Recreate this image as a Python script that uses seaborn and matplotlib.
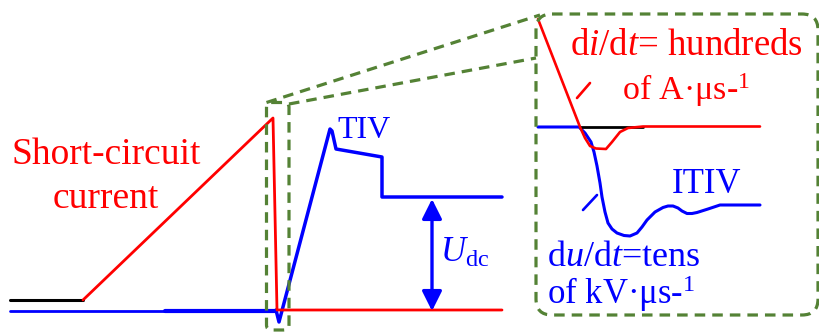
import numpy as np
import pandas as pd
import matplotlib
matplotlib.use("Agg")
import matplotlib.pyplot as plt
from matplotlib.patches import FancyBboxPatch, FancyArrowPatch
import seaborn as sns

# ---- waveform sketch data (horizontal position, vertical position, top-down) ----
idle_x = [10, 83]
idle_y = [300, 300]

current_x = [83, 273, 277, 502]
current_y = [300, 118, 310, 310]

gate_x = [10, 165]
gate_y = [311, 311]

voltage_pre_x = [165, 276]
voltage_pre_y = [310.5, 310.5]

voltage_x = [276, 279, 330, 332, 336, 382, 382, 502]
voltage_y = [310, 322, 129, 131, 149, 157, 197, 197]

# zoomed view of the turn-off transient
zoom_i_x = [538, 580, 585, 590, 596, 606, 612, 620, 628, 643, 760]
zoom_i_y = [19, 127, 138, 146, 148.5, 149, 142, 132, 128, 126.5, 126.5]

zoom_ref_x = [580, 643]
zoom_ref_y = [127, 127]

zoom_u_x = [538, 579, 585, 591, 594, 597, 600, 602, 605, 608, 612, 617, 624, 630, 637,
            642, 647, 655, 663, 668, 673, 678, 682, 687, 692, 697, 708, 720, 760]
zoom_u_y = [127, 127, 133, 142, 152, 166, 183, 197, 212, 223, 229, 233, 235.5, 236, 233,
            227, 220, 212, 207.5, 206, 206, 208, 211, 213.5, 213.5, 212.5, 209, 205, 205]

RED = "#FF0000"
BLUE = "#0000FF"
GREEN = "#548235"

sns.set_theme(style="white")
plt.rcParams["font.family"] = ["Liberation Serif", "DejaVu Serif"]
plt.rcParams["mathtext.fontset"] = "custom"
plt.rcParams["mathtext.rm"] = "Liberation Serif"
plt.rcParams["mathtext.it"] = "Liberation Serif:italic"

fig = plt.figure(figsize=(8.2, 3.32), dpi=100)
ax = fig.add_axes([0, 0, 1, 1])
ax.set_xlim(0, 820)
ax.set_ylim(332, 0)
ax.axis("off")


def trace(xs, ys, color, lw, z=3):
    df = pd.DataFrame({"x": xs, "y": ys})
    sns.lineplot(data=df, x="x", y="y", ax=ax, color=color, lw=lw,
                 sort=False, estimator=None, zorder=z)


# main waveforms
trace(idle_x, idle_y, "black", 2.2)
trace(gate_x, gate_y, BLUE, 2.0)
trace(voltage_pre_x, voltage_pre_y, BLUE, 3.0)
trace(current_x, current_y, RED, 2.0, z=4)
trace(voltage_x, voltage_y, BLUE, 2.5)

# zoomed transient
trace(zoom_u_x, zoom_u_y, BLUE, 2.2)
trace(zoom_ref_x, zoom_ref_y, "black", 2.0, z=3)
trace(zoom_i_x, zoom_i_y, RED, 1.9, z=4)

# slope markers
ax.plot([577, 590], [98, 83], color=RED, lw=1.9)
ax.plot([583, 597], [210, 195], color=BLUE, lw=1.9)

# dashed call-out boxes and connectors
dash = (0, (3.3, 2.2))
glw = 2.3
small = FancyBboxPatch((266.5, 102.5), 22.5, 227.5,
                       boxstyle="round,pad=0,rounding_size=5",
                       fill=False, ec=GREEN, lw=glw, ls=dash, zorder=5)
big = FancyBboxPatch((536, 14), 282, 301,
                     boxstyle="round,pad=0,rounding_size=16",
                     fill=False, ec=GREEN, lw=glw, ls=dash, zorder=5)
ax.add_patch(small)
ax.add_patch(big)
ax.plot([266.5, 540], [102.5, 15], color=GREEN, lw=glw, ls=dash, zorder=5)
ax.plot([289, 536], [104, 58], color=GREEN, lw=glw, ls=dash, zorder=5)

# Udc double arrow
arr = FancyArrowPatch((432, 199), (432, 311),
                      arrowstyle="<|-|>,head_length=12,head_width=6",
                      mutation_scale=1, color=BLUE, lw=2.4,
                      shrinkA=0, shrinkB=0, zorder=4)
ax.add_patch(arr)

ax.text(106, 164, "Short-circuit", color=RED, fontsize=27, ha="center", va="baseline")
ax.text(106, 208, "current", color=RED, fontsize=27, ha="center", va="baseline")
ax.text(337, 138, "TIV", color=BLUE, fontsize=23, ha="left", va="baseline")
ax.text(440, 262, r"$U_{\mathrm{dc}}$", color=BLUE, fontsize=25, ha="left", va="baseline")
ax.text(570, 55, r"d$i$/d$t$= hundreds", color=RED, fontsize=26.5, ha="left", va="baseline")
ax.text(622, 100, r"of A·μs-$^{1}$", color=RED, fontsize=24.5, ha="left", va="baseline")
ax.text(672, 193, "ITIV", color=BLUE, fontsize=25, ha="left", va="baseline")
ax.text(547, 265.5, r"d$u$/d$t$=tens", color=BLUE, fontsize=26, ha="left", va="baseline")
ax.text(547, 303.5, r"of kV·μs-$^{1}$", color=BLUE, fontsize=25, ha="left", va="baseline")

fig.savefig("out.png", dpi=100, facecolor="white")
